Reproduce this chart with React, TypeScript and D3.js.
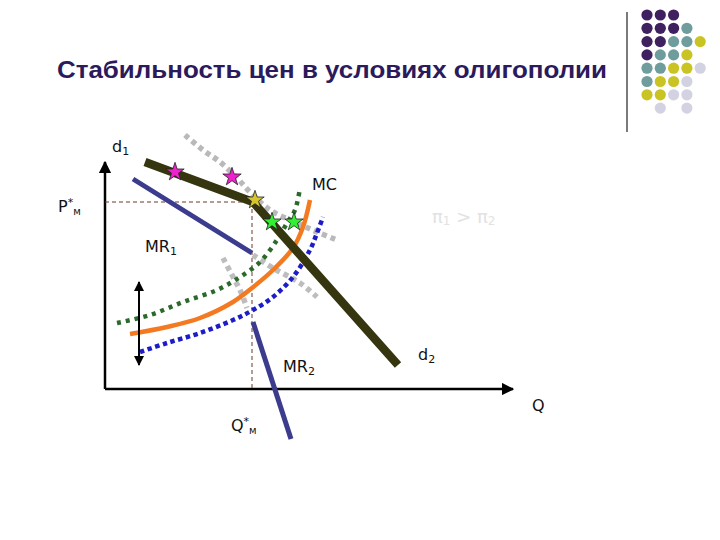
import React from "react";
import * as d3 from "d3";

// Data in diagram units (Q horizontal, P vertical)
const demandD: [number, number][] = [[40, 227], [148, 187], [293, 24]];
const mr1: [number, number][] = [[28, 210], [147, 136]];
const mr2: [number, number][] = [[148, 67], [186, -50]];
const grayUpper: [number, number][] = [[80, 254], [98, 239], [115, 227], [132, 211], [145, 197], [165, 179], [192, 166], [212, 157], [232, 149]];
const grayLowerSteep: [number, number][] = [[118, 131], [127, 114], [135, 99], [142, 81]];
const grayLowerFlat: [number, number][] = [[148, 134], [168, 121], [195, 106], [212, 92]];
const greenMC: [number, number][] = [[12, 66], [45, 74], [78, 87], [112, 99], [135, 112], [155, 127], [172, 149], [182, 166], [190, 179], [195, 201]];
const orangeMC: [number, number][] = [[25, 55], [62, 62], [95, 71], [128, 87], [147, 101], [168, 119], [188, 141], [198, 162], [205, 189]];
const blueMC: [number, number][] = [[35, 37], [62, 46], [95, 56], [128, 69], [148, 79], [168, 92], [188, 112], [205, 139], [212, 156], [218, 172]];
const magentaStars: [number, number][] = [[70, 217], [127, 212]];
const yellowStars: [number, number][] = [[150, 189]];
const greenStars: [number, number][] = [[167, 167], [189, 167]];
const pStar = 187;
const qStar = 147;
const shiftArrow: [number, number] = [107, 24];
const shiftArrowQ = 34;
const axisTopP = 227;
const axisEndQ = 408;

const logoRows = [
  "PPP..",
  "PPPT.",
  "PPTTY",
  "PTTY.",
  "TTYYL",
  "TYYL.",
  "YYLL.",
  ".L.L.",
];
const logoColors: Record<string, string> = { P: "#3f2160", T: "#6f9c9c", Y: "#c9c424", L: "#d2d2e2" };

const titleText = "Стабильность цен в условиях олигополии";

const x = d3.scaleLinear().domain([0, 410]).range([105, 515]);
const y = d3.scaleLinear().domain([0, 264]).range([389, 125]);

const straight = d3.line<[number, number]>().x(d => x(d[0])).y(d => y(d[1]));
const smooth = d3.line<[number, number]>().x(d => x(d[0])).y(d => y(d[1])).curve(d3.curveCatmullRom.alpha(0.5));
const star = d3.symbol().type(d3.symbolStar).size(105)();

const font = "'DejaVu Sans', Verdana, sans-serif";

export default function App() {
  return (
    <svg width={720} height={540} style={{ position: "absolute", left: 0, top: 0, background: "#fff" }}>
      <defs>
        <marker id="arr" viewBox="0 0 10 10" refX="9" refY="5" markerWidth="5" markerHeight="5" orient="auto-start-reverse">
          <path d="M0,0 L10,5 L0,10 z" fill="#000" />
        </marker>
      </defs>
      <rect width={720} height={540} fill="#fff" />
      {/* title */}
      <text x={57} y={78} fontFamily="'Liberation Sans', Arial, sans-serif" fontWeight="bold" fontSize={23.5} fill="#2b1a5c" textLength={550} lengthAdjust="spacingAndGlyphs">{titleText}</text>
      {/* decorative separator and dots */}
      <line x1={627} y1={12} x2={627} y2={132} stroke="#222" strokeWidth={1.2} />
      {logoRows.map((row, r) =>
        row.split("").map((c, k) =>
          c === "." ? null : (
            <circle key={`${r}-${k}`} cx={647 + k * 13.3} cy={15 + r * 13.3} r={5.6} fill={logoColors[c]} />
          )
        )
      )}
      {/* axes */}
      <line x1={x(0)} y1={y(0)} x2={x(0)} y2={y(axisTopP)} stroke="#000" strokeWidth={2.5} markerEnd="url(#arr)" />
      <line x1={x(0)} y1={y(0)} x2={x(axisEndQ)} y2={y(0)} stroke="#000" strokeWidth={2.5} markerEnd="url(#arr)" />
      {/* dashed guides */}
      <line x1={x(0)} y1={y(pStar)} x2={x(qStar)} y2={y(pStar)} stroke="#6b3a2a" strokeWidth={1} strokeDasharray="4 3" />
      <line x1={x(qStar)} y1={y(pStar)} x2={x(qStar)} y2={y(0)} stroke="#6b3a2a" strokeWidth={1} strokeDasharray="4 3" />
      {/* gray dotted */}
      <path d={smooth(grayUpper) || ""} fill="none" stroke="#b9b9bb" strokeWidth={5.5} strokeDasharray="5 4" />
      <path d={smooth(grayLowerSteep) || ""} fill="none" stroke="#bdbdc0" strokeWidth={5.5} strokeDasharray="5 4" />
      <path d={smooth(grayLowerFlat) || ""} fill="none" stroke="#bdbdc0" strokeWidth={5.5} strokeDasharray="5 4" />
      {/* MR lines */}
      <path d={straight(mr1) || ""} fill="none" stroke="#3c3c8e" strokeWidth={5} />
      <path d={straight(mr2) || ""} fill="none" stroke="#3c3c8e" strokeWidth={5} />
      {/* MC curves */}
      <path d={smooth(greenMC) || ""} fill="none" stroke="#2b6a2b" strokeWidth={4.5} strokeDasharray="4 5" />
      <path d={smooth(orangeMC) || ""} fill="none" stroke="#f47a22" strokeWidth={4.5} />
      <path d={smooth(blueMC) || ""} fill="none" stroke="#1c1cc8" strokeWidth={4.5} strokeDasharray="4.5 3.5" />
      {/* kinked demand */}
      <path d={straight(demandD) || ""} fill="none" stroke="#35350f" strokeWidth={8.5} strokeLinejoin="round" />
      {/* shift arrow */}
      <line x1={x(shiftArrowQ)} y1={y(shiftArrow[1])} x2={x(shiftArrowQ)} y2={y(shiftArrow[0])} stroke="#000" strokeWidth={2} markerStart="url(#arr)" markerEnd="url(#arr)" />
      {/* stars */}
      {magentaStars.map((p, i) => (
        <path key={`m${i}`} d={star || ""} transform={`translate(${x(p[0])},${y(p[1])})`} fill="#ee22cc" stroke="#222" strokeWidth={0.8} />
      ))}
      {yellowStars.map((p, i) => (
        <path key={`y${i}`} d={star || ""} transform={`translate(${x(p[0])},${y(p[1])})`} fill="#d6c62e" stroke="#222" strokeWidth={0.8} />
      ))}
      {greenStars.map((p, i) => (
        <path key={`g${i}`} d={star || ""} transform={`translate(${x(p[0])},${y(p[1])})`} fill="#33ee33" stroke="#222" strokeWidth={0.8} />
      ))}
      {/* labels */}
      <g fontFamily={font} fill="#111">
        <text x={112} y={152} fontSize={16}>d<tspan fontSize={11} dy={3}>1</tspan></text>
        <text x={312} y={190} fontSize={16}>MC</text>
        <text x={58} y={212} fontSize={16}>P<tspan fontSize={11} dy={-6}>*</tspan><tspan fontSize={10} dy={9}>м</tspan></text>
        <text x={432} y={223} fontSize={18} fill="#e2e2e2">π<tspan fontSize={12} dy={2}>1</tspan><tspan dy={-2}> &gt; π</tspan><tspan fontSize={12} dy={2}>2</tspan></text>
        <text x={145} y={252} fontSize={16}>MR<tspan fontSize={11} dy={3}>1</tspan></text>
        <text x={283} y={372} fontSize={16}>MR<tspan fontSize={11} dy={3}>2</tspan></text>
        <text x={418} y={360} fontSize={16}>d<tspan fontSize={11} dy={3}>2</tspan></text>
        <text x={231} y={431} fontSize={16}>Q<tspan fontSize={11} dy={-6}>*</tspan><tspan fontSize={10} dy={9}>м</tspan></text>
        <text x={532} y={411} fontSize={16}>Q</text>
      </g>
    </svg>
  );
}
